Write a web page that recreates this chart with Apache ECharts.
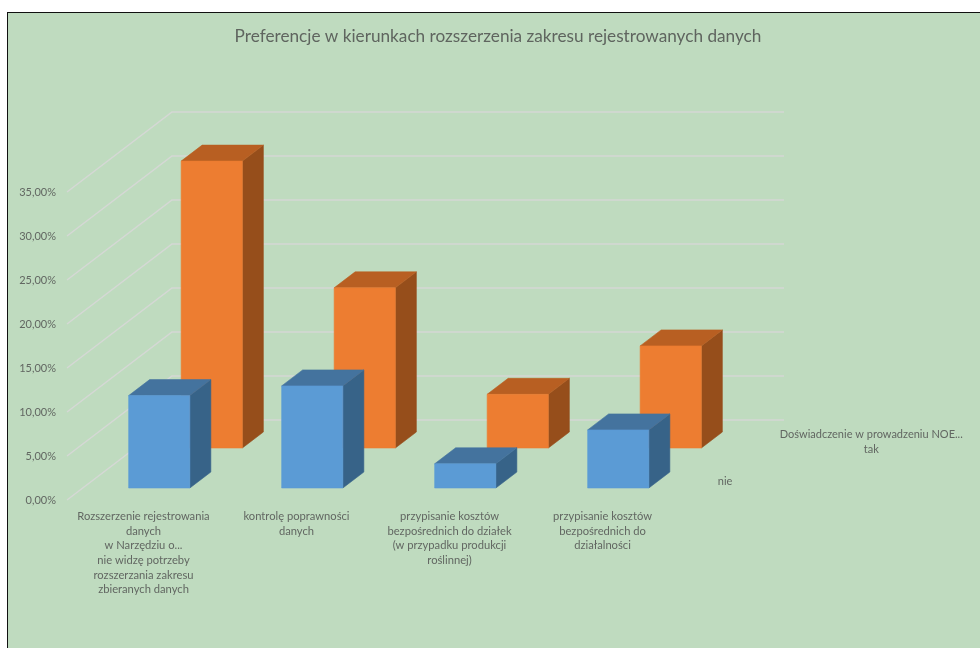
<!DOCTYPE html>
<html>
<head>
<meta charset="utf-8">
<style>
html,body{margin:0;padding:0;width:980px;height:648px;overflow:hidden;background:#fff}
#frame{position:absolute;left:7px;top:12px;width:1000px;height:700px;border:1.5px solid #111;background:#bfdbbf}
#chart{position:absolute;left:0;top:0;width:980px;height:648px}
</style>
<script src="https://cdn.jsdelivr.net/npm/echarts@6/dist/echarts.min.js"></script>
</head>
<body>
<div id="frame"></div>
<div id="chart"></div>
<script>
const titleText = 'Preferencje w kierunkach rozszerzenia zakresu rejestrowanych danych';
const categories = [
  'Rozszerzenie rejestrowania\ndanych\nw Narzędziu o...\nnie widzę potrzeby\nrozszerzania zakresu\nzbieranych danych',
  'kontrolę poprawności\ndanych',
  'przypisanie kosztów\nbezpośrednich do działek\n(w przypadku produkcji\nroślinnej)',
  'przypisanie kosztów\nbezpośrednich do\ndziałalności'
];
const yTicks = [0, 5, 10, 15, 20, 25, 30, 35];
const nieValues = [10.5, 11.6, 2.75, 6.6];
const takValues = [32.6, 18.2, 6.1, 11.6];
const depthLabels = ['nie', 'Doświadczenie w prowadzeniu NOE...\ntak'];

const DEPTH_X = 105, DEPTH_Y = 80;      // floor depth on screen
const BAR_WIDTH = 0.4, BAR_DEPTH = 0.2; // share of band / of total depth
const INK = '#626762';
const FONT = 'Lato';

function project(api, cat, along, value, depth) {
  const p = api.coord([cat, value]);
  const band = api.size([1, 0])[0];
  return [p[0] + along * band + depth * DEPTH_X, p[1] - depth * DEPTH_Y];
}

function barRenderer(rowStart, colors) {
  return function (params, api) {
    const c = api.value(0), v = api.value(1);
    const a0 = -BAR_WIDTH / 2, a1 = BAR_WIDTH / 2;
    const d0 = rowStart + 0.15, d1 = d0 + BAR_DEPTH;
    const P = (a, val, d) => project(api, c, a, val, d);
    const poly = (pts, fill) => ({
      type: 'polygon', shape: { points: pts },
      style: { fill: fill, stroke: fill, lineWidth: 0.6 }
    });
    return {
      type: 'group',
      children: [
        poly([P(a1, 0, d0), P(a1, 0, d1), P(a1, v, d1), P(a1, v, d0)], colors[2]),
        poly([P(a0, v, d0), P(a1, v, d0), P(a1, v, d1), P(a0, v, d1)], colors[1]),
        poly([P(a0, 0, d0), P(a1, 0, d0), P(a1, v, d0), P(a0, v, d0)], colors[0])
      ]
    };
  };
}

function gridRenderer(params, api) {
  const v = api.value(1), last = categories.length - 1;
  return {
    type: 'polyline',
    shape: { points: [project(api, 0, -0.5, v, 0), project(api, 0, -0.5, v, 1), project(api, last, 0.5, v, 1)] },
    style: { stroke: '#d5d8d5', lineWidth: 1.5, fill: null }
  };
}

const depthLabelOffsets = [[12.5, 1.5], [113.5, 2]];
function depthRenderer(params, api) {
  const i = params.dataIndex;
  const p = project(api, categories.length - 1, 0.5, 0, 0.25 + 0.5 * i);
  return {
    type: 'text',
    style: {
      x: p[0] + depthLabelOffsets[i][0], y: p[1] + depthLabelOffsets[i][1],
      text: depthLabels[i],
      fill: INK, font: '11px ' + FONT, lineHeight: 15,
      align: i === 0 ? 'left' : 'center', verticalAlign: 'middle'
    }
  };
}

const chart = echarts.init(document.getElementById('chart'), null, { renderer: 'canvas' });
chart.setOption({
  animation: false,
  backgroundColor: 'transparent',
  title: {
    text: titleText, left: 493, top: 23, textAlign: 'center',
    textStyle: { color: '#5f655f', fontFamily: FONT, fontWeight: 'normal', fontSize: 17.2 }
  },
  grid: { left: 67, top: 192, width: 612, height: 308 },
  xAxis: {
    type: 'category', data: categories,
    axisLine: { show: false }, axisTick: { show: false }, splitLine: { show: false },
    axisLabel: { interval: 0, margin: 9, color: INK, fontFamily: FONT, fontSize: 11.2, lineHeight: 14.7, align: 'center' }
  },
  yAxis: {
    type: 'value', min: 0, max: 35, interval: 5,
    axisLine: { show: false }, axisTick: { show: false }, splitLine: { show: false },
    axisLabel: {
      margin: 11, color: INK, fontFamily: FONT, fontSize: 11,
      formatter: v => v.toFixed(2).replace('.', ',') + '%'
    }
  },
  series: [
    { type: 'custom', name: 'siatka', z: 1, renderItem: gridRenderer, encode: { x: 0, y: 1 },
      data: yTicks.map(t => [0, t]), silent: true },
    { type: 'custom', name: 'tak', z: 2, renderItem: barRenderer(0.5, ['#ed7d31', '#b85f22', '#964e1b']), encode: { x: 0, y: 1 },
      data: takValues.map((v, i) => [i, v]) },
    { type: 'custom', name: 'nie', z: 3, renderItem: barRenderer(0, ['#5b9bd5', '#44739e', '#376388']), encode: { x: 0, y: 1 },
      data: nieValues.map((v, i) => [i, v]) },
    { type: 'custom', name: 'etykiety', z: 4, renderItem: depthRenderer, encode: { x: 0, y: 1 },
      data: depthLabels.map(() => [categories.length - 1, 0]), silent: true }
  ]
});
</script>
</body>
</html>
